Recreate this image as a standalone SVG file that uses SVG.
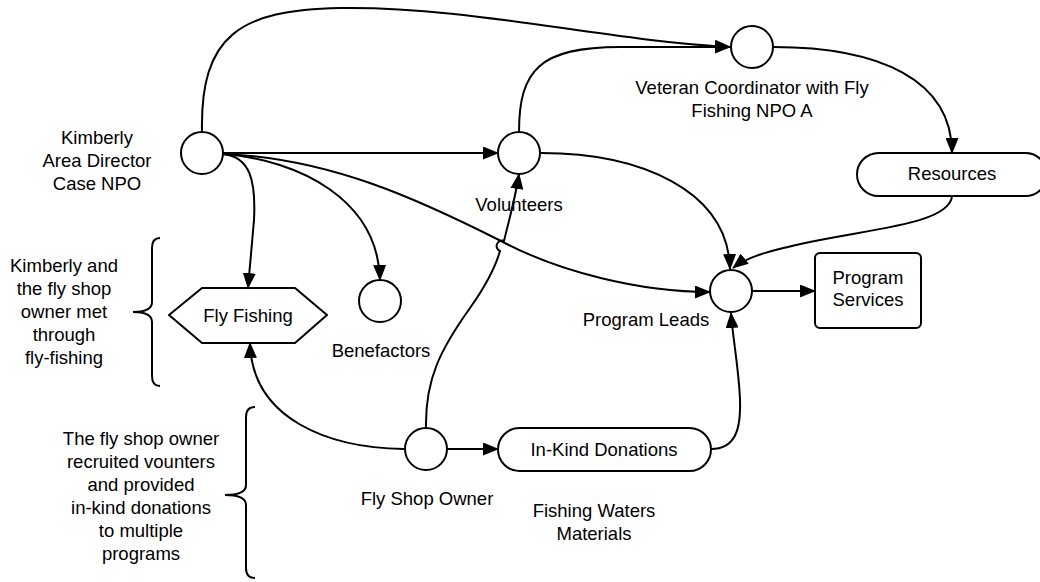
<svg xmlns="http://www.w3.org/2000/svg" width="1040" height="582" viewBox="0 0 1040 582">
  <defs>
    <marker id="arrow" markerUnits="userSpaceOnUse" markerWidth="17" markerHeight="13" refX="15" refY="6.5" orient="auto">
      <path d="M0,0 L16,6.5 L0,13 Z" fill="#000"/>
    </marker>
    <style>
      text { font-family: "Liberation Sans", Arial, sans-serif; font-size: 18.5px; fill: #000; text-anchor: middle; }
      .node { fill: #fff; stroke: #000; stroke-width: 2; }
      .edge { fill: none; stroke: #000; stroke-width: 2; }
      .arr { marker-end: url(#arrow); }
      .brace { fill: none; stroke: #000; stroke-width: 2; }
    </style>
  </defs>
  <rect width="1040" height="582" fill="#fff"/>

  <!-- connectors -->
  <g id="connectors">
    <path class="edge arr" d="M202,132 C200,35 240,10 340,8 C470,6 600,40 730,47"/>
    <path class="edge arr" d="M519,132 C519,70 540,47 620,47 L730,47"/>
    <path class="edge arr" d="M223,153 L498,153"/>
    <path class="edge arr" d="M223,154 C250,157 256,180 254,220 L248,288"/>
    <path class="edge arr" d="M223,154 C300,160 378,200 380,280"/>
    <path class="edge arr" d="M223,154 C330,158 420,200 503,242 C560,272 640,292 710,292"/>
    <path class="edge arr" d="M426,428 C425,380 440,350 470,308 C487,284 496,265 500,251 A5,5 0 0 1 504,241 C509,220 516,195 519,174"/>
    <path class="edge arr" d="M541,153 C640,153 728,190 730,269"/>
    <path class="edge arr" d="M773,47 C880,47 952,80 952,153"/>
    <path class="edge arr" d="M952,196 C950,222 880,228 820,240 C775,249 748,256 733,268"/>
    <path class="edge arr" d="M752,291 L815,291"/>
    <path class="edge arr" d="M447,449 L498,449"/>
    <path class="edge arr" d="M404,449 C330,448 252,420 250,343"/>
    <path class="edge arr" d="M711,449 C735,449 741,430 740,400 C739,370 733,340 731,313"/>
  </g>

  <!-- actors -->
  <g id="kimberly">
    <circle class="node" cx="202" cy="153" r="21"/>
    <text x="97" y="143.5">Kimberly</text>
    <text x="97" y="166.5">Area Director</text>
    <text x="97" y="189.5">Case NPO</text>
  </g>
  <g id="volunteers">
    <circle class="node" cx="519" cy="153" r="21"/>
    <text x="519" y="210.5">Volunteers</text>
  </g>
  <g id="veteran-coordinator">
    <circle class="node" cx="752" cy="47" r="21"/>
    <text x="752" y="93.5">Veteran Coordinator with Fly</text>
    <text x="752" y="116.5">Fishing NPO A</text>
  </g>
  <g id="resources">
    <rect class="node" x="857" y="153" width="190" height="43" rx="21.5"/>
    <text x="952" y="180">Resources</text>
  </g>
  <g id="program-leads">
    <circle class="node" cx="731" cy="291" r="21"/>
    <text x="646" y="325.5">Program Leads</text>
  </g>
  <g id="program-services">
    <rect class="node" x="815" y="253" width="106" height="75" rx="5"/>
    <text x="868" y="283.5">Program</text>
    <text x="868" y="306">Services</text>
  </g>
  <g id="fly-fishing">
    <path class="node" stroke-linejoin="round" d="M169,315 L202,288 L295,288 L327,315 L295,343 L202,343 Z"/>
    <text x="248" y="321.5">Fly Fishing</text>
  </g>
  <g id="benefactors">
    <circle class="node" cx="380" cy="301" r="21"/>
    <text x="381" y="356.5">Benefactors</text>
  </g>
  <g id="fly-shop-owner">
    <circle class="node" cx="426" cy="449" r="21"/>
    <text x="427" y="504.5">Fly Shop Owner</text>
  </g>
  <g id="in-kind-donations">
    <rect class="node" x="498" y="428" width="213" height="43" rx="21.5"/>
    <text x="604" y="455.5">In-Kind Donations</text>
    <text x="594" y="516.5">Fishing Waters</text>
    <text x="594" y="539.5">Materials</text>
  </g>

  <!-- annotations -->
  <g id="note-met">
    <path class="brace" d="M160,238 Q152,238 152,248 L152,302 Q152,312 133,312 Q152,312 152,322 L152,376 Q152,386 160,386"/>
    <text x="64" y="272">Kimberly and</text>
    <text x="64" y="295">the fly shop</text>
    <text x="64" y="318">owner met</text>
    <text x="64" y="341">through</text>
    <text x="64" y="364">fly-fishing</text>
  </g>
  <g id="note-recruited">
    <path class="brace" d="M255,407 Q246,407 246,417 L246,485 Q246,495 225,495 Q246,495 246,505 L246,568 Q246,578 255,578"/>
    <text x="141" y="444.5">The fly shop owner</text>
    <text x="141" y="467.5">recruited vounters</text>
    <text x="141" y="490.5">and provided</text>
    <text x="141" y="513.5">in-kind donations</text>
    <text x="141" y="536.5">to multiple</text>
    <text x="141" y="559.5">programs</text>
  </g>
</svg>
